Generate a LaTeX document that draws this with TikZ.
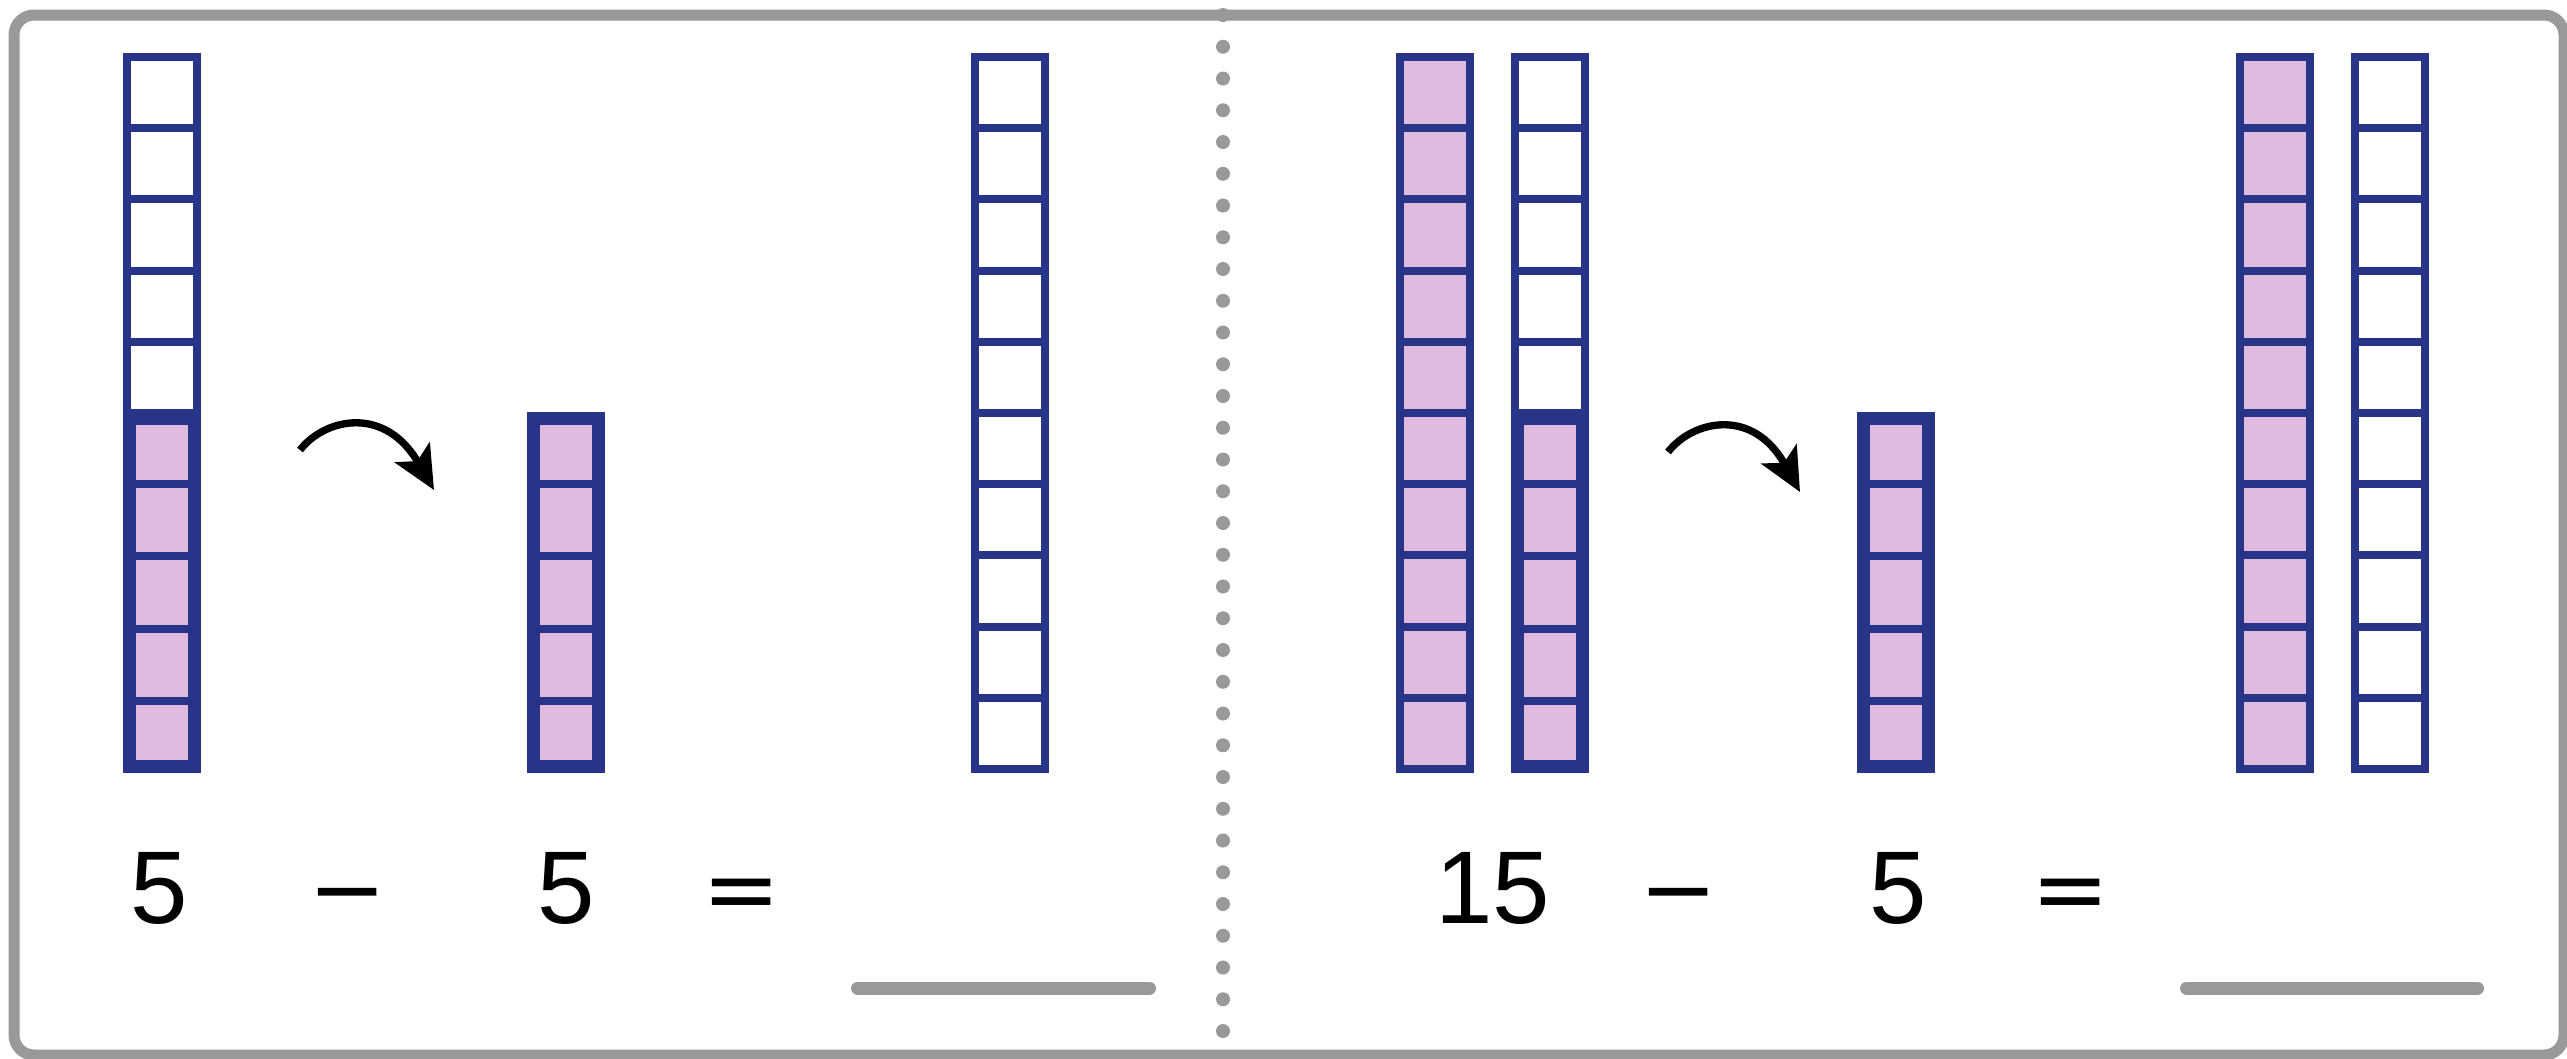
\documentclass[tikz,border=0pt]{standalone}
\usepackage{fontspec}
\setmainfont{Liberation Sans}
\newfontfamily\symfont{DejaVu Sans}
\usetikzlibrary{arrows.meta}
\definecolor{navy}{RGB}{40,52,136}
\definecolor{lilac}{RGB}{222,186,222}
\definecolor{framegray}{RGB}{153,153,153}
\tikzset{
  num/.style={font=\fontsize{31}{34}\selectfont, inner sep=0pt, anchor=base, text=black},
  sym/.style={font=\symfont\fontsize{28}{32}\selectfont, inner sep=0pt, anchor=base, text=black},
  swing/.style={line width=2.2pt, draw=black, -{Stealth[length=13pt,width=12pt,inset=3pt]}},
  answer/.style={line width=3.9pt, line cap=round, draw=framegray},
  thinline/.style={draw=navy, line width=2.4pt},
  thickline/.style={draw=navy, line width=3.9pt},
}
% ten-cell rod with thin border: #1 left x, #2 fill colour
\newcommand\thinrod[2]{%
  \fill[#2] (#1,53) rectangle (#1+78,773);
  \foreach \k in {1,...,9} \draw[thinline] (#1,{57+71.2*\k}) -- (#1+78,{57+71.2*\k});
  \draw[thinline] (#1+4,57) rectangle (#1+74,769);
}
% five-cell rod with thick border: #1 left x
\newcommand\thickrod[1]{%
  \fill[lilac] (#1,412) rectangle (#1+78,773);
  \foreach \k in {1,...,4} \draw[thinline] (#1,{412+72.2*\k}) -- (#1+78,{412+72.2*\k});
  \draw[thickline] (#1+6.5,418.5) rectangle (#1+71.5,766.5);
}
\begin{document}
\begin{tikzpicture}[x=0.3pt,y=-0.3pt]
\useasboundingbox (0,0) rectangle (2567,1058);
\clip (0,0) rectangle (2567,1058);
\fill[white] (0,0) rectangle (2567,1058);
% frame
\draw[framegray, line width=3.3pt, rounded corners=6pt] (14,15) rectangle (2564,1055);
% dotted divider
\foreach \k in {0,...,32} \fill[framegray] (1223,{15+31.75*\k}) circle (2.1pt);
% left panel rods
\thinrod{123}{white}
\thickrod{123}
\thickrod{527}
\thinrod{971}{white}
% right panel rods
\thinrod{1396}{lilac}
\thinrod{1511}{white}
\thickrod{1511}
\thickrod{1857}
\thinrod{2236}{lilac}
\thinrod{2351}{white}
% arrows
\coordinate (a1s) at (300,450);
\coordinate (a1e) at (434,490);
\draw[swing] (a1s) .. controls (325,418) and (385,405) .. (a1e);
\coordinate (a2s) at (1668,452);
\coordinate (a2e) at (1800,492);
\draw[swing] (a2s) .. controls (1693,420) and (1753,407) .. (a2e);
% equations
\node[num] (l5a) at (159.5,923) {5};
\node[sym] (lmin) at (347.5,921) {−};
\node[num] (l5b) at (566.5,923) {5};
\node[sym] (leq) at (741.5,921) {=};
\node[num] (r15) at (1492.5,923) {15};
\node[sym] (rmin) at (1679,921) {−};
\node[num] (r5) at (1898.5,923) {5};
\node[sym] (req) at (2070.5,921) {=};
% answer lines
\coordinate (la1) at (857.5,988);
\coordinate (la2) at (1149.5,988);
\draw[answer] (la1) -- (la2);
\coordinate (ra1) at (2186.5,988);
\coordinate (ra2) at (2477.5,988);
\draw[answer] (ra1) -- (ra2);
\end{tikzpicture}
\end{document}
